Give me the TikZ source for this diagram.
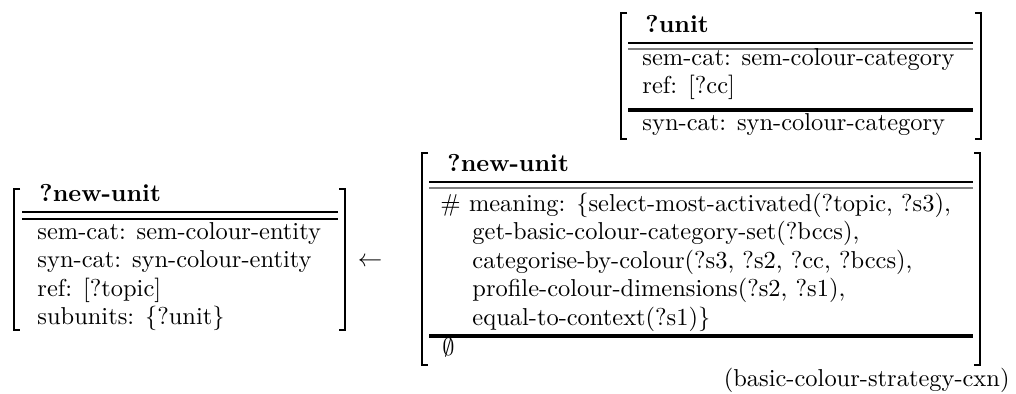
\documentclass[tikz,border=0pt]{standalone}
\usepackage{amssymb}
\usetikzlibrary{positioning}
% square brackets round a feature structure: left x, right x, top y, bottom y
\newcommand{\avmbrackets}[4]{%
  \draw[brk] (#1+6,#3) -- (#1,#3) -- (#1,#4) -- (#1+6,#4);
  \draw[brk] (#2-6,#3) -- (#2,#3) -- (#2,#4) -- (#2-6,#4);}
\begin{document}
\begin{tikzpicture}[x=0.409pt,y=-0.409pt,
  txt/.style={anchor=base west,inner sep=0pt},
  hd/.style={txt,font=\bfseries},
  brk/.style={line width=0.6pt},
  rule/.style={line width=0.45pt},
  greyrule/.style={line width=0.8pt,black!50},
  thickrule/.style={line width=1.4pt}]
\useasboundingbox (0,0) rectangle (1016,394);
% top unit: ?unit
\avmbrackets{621}{981}{13}{139}
\node[hd] (uhead) at (645,33) {?unit};
\draw[rule] (628,43) -- (973,43);
\draw[greyrule] (628,49) -- (973,49);
\node[txt] (usem) at (642,66) {sem-cat: sem-colour-category};
\node[txt] (uref) at (642,94) {ref: [?cc]};
\draw[thickrule] (628,110) -- (973,110);
\node[txt] (usyn) at (642,131) {syn-cat: syn-colour-category};
% left unit: resulting ?new-unit
\avmbrackets{14}{345}{189}{330}
\node[hd] (lhead) at (39,202) {?new-unit};
\draw[rule] (22,212) -- (338,212);
\draw[rule] (22,219) -- (338,219);
\foreach \yy/\name/\t in {240/lsem/{sem-cat: sem-colour-entity},268/lsyn/{syn-cat: syn-colour-entity},297/lref/{ref: [?topic]},325/lsub/{subunits: \{?unit\}}}
  \node[txt] (\name) at (37,\yy) {\t};
% arrow between the two sides
\node[inner sep=0pt] (larr) at (370,262) {$\leftarrow$};
% middle unit: ?new-unit with its meaning
\avmbrackets{422}{980}{153}{365}
\node[hd] (mhead) at (447,172) {?new-unit};
\draw[rule] (429,182) -- (973,182);
\draw[greyrule] (429,188) -- (973,188);
\node[txt] (mmean) at (440,212) {\# meaning: \{select-most-activated(?topic, ?s3),};
\foreach \yy/\name/\t in {240/mget/{get-basic-colour-category-set(?bccs),},269/mcat/{categorise-by-colour(?s3, ?s2, ?cc, ?bccs),},297/mprof/{profile-colour-dimensions(?s2, ?s1),},326/meq/{equal-to-context(?s1)\}}}
  \node[txt] (\name) at (472,\yy) {\t};
\draw[thickrule] (429,336) -- (973,336);
\node[txt] (mempty) at (442,356) {$\emptyset$};
% construction name
\node[anchor=base east,inner sep=0pt] (cxn) at (1010,387) {(basic-colour-strategy-cxn)};
\end{tikzpicture}
\end{document}
